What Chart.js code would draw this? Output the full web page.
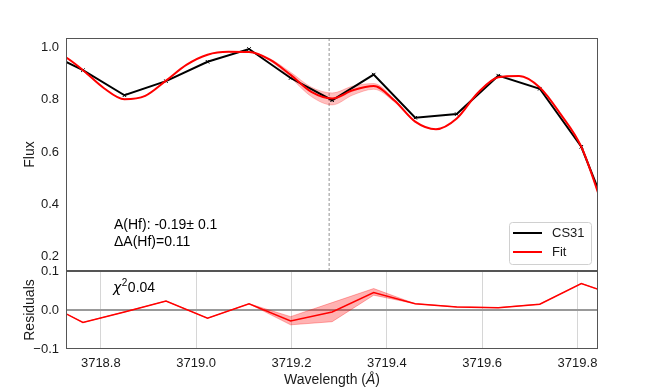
<!DOCTYPE html>
<html><head><meta charset="utf-8">
<script src="https://cdn.jsdelivr.net/npm/chart.js@4"></script>
<style>
html,body{margin:0;padding:0;background:#fff;}
#wrap{position:relative;width:664px;height:388px;background:#fff;}
canvas{position:absolute;left:0;top:0;}
</style></head><body>
<div id="wrap"><canvas id="bot" width="664" height="388"></canvas><canvas id="top" width="664" height="388"></canvas></div>
<script>
// ---- data ----
const dataWave = [3718.6754, 3718.7625, 3718.8496, 3718.9368, 3719.0239, 3719.1110, 3719.1982, 3719.2853, 3719.3724, 3719.4595, 3719.5467, 3719.6338, 3719.7209, 3719.8080, 3719.8951];
const fluxObs  = [0.990, 0.913, 0.817, 0.871, 0.945, 0.994, 0.883, 0.798, 0.896, 0.731, 0.745, 0.892, 0.842, 0.620, 0.220];

const fitWave  = [3718.6754, 3718.7189, 3718.7625, 3718.8061, 3718.8496, 3718.8932, 3718.9368, 3718.9803, 3719.0239, 3719.0675, 3719.1110, 3719.1546, 3719.1982, 3719.2417, 3719.2853, 3719.3288, 3719.3724, 3719.4160, 3719.4595, 3719.5031, 3719.5467, 3719.5902, 3719.6338, 3719.6774, 3719.7209, 3719.7645, 3719.8080, 3719.8516];
const fitFlux  = [0.985, 0.970, 0.913, 0.845, 0.802, 0.815, 0.873, 0.934, 0.972, 0.983, 0.982, 0.953, 0.895, 0.830, 0.805, 0.836, 0.852, 0.797, 0.716, 0.687, 0.728, 0.825, 0.886, 0.891, 0.847, 0.745, 0.620, 0.400];
const fitUpper = [0.985, 0.970, 0.913, 0.845, 0.802, 0.815, 0.873, 0.934, 0.972, 0.983, 0.983, 0.957, 0.905, 0.848, 0.826, 0.852, 0.862, 0.802, 0.718, 0.687, 0.728, 0.825, 0.886, 0.891, 0.847, 0.745, 0.620, 0.400];
const fitLower = [0.985, 0.970, 0.913, 0.845, 0.802, 0.815, 0.873, 0.934, 0.972, 0.983, 0.981, 0.949, 0.884, 0.812, 0.780, 0.818, 0.840, 0.791, 0.714, 0.687, 0.728, 0.825, 0.886, 0.891, 0.847, 0.745, 0.620, 0.400];

const residuals  = [0.023, -0.032, -0.005, 0.023, -0.021, 0.016, -0.028, -0.005, 0.045, 0.016, 0.008, 0.006, 0.015, 0.068, 0.031];
const residUpper = [0.023, -0.032, -0.005, 0.023, -0.021, 0.016, -0.017, 0.019, 0.055, 0.016, 0.008, 0.006, 0.015, 0.068, 0.031];
const residLower = [0.023, -0.032, -0.005, 0.023, -0.021, 0.016, -0.038, -0.030, 0.038, 0.016, 0.008, 0.006, 0.015, 0.068, 0.031];

const xTicks = [3718.8, 3719.0, 3719.2, 3719.4, 3719.6, 3719.8];
const fluxTicks = [0.2, 0.4, 0.6, 0.8, 1.0];
const residTicks = [-0.1, 0.0, 0.1];
const hfLine = 3719.279;
const xRange = [3718.727, 3719.843];
const fluxRange = [0.145, 1.036];
const residRange = [-0.1, 0.1];
const seriesLabels = ['CS31', 'Fit'];
const infoLines = ['A(Hf): -0.19\u00b1 0.1', '\u0394A(Hf)=0.11'];
const chiValue = '0.04';
const xTitleParts = ['Wavelength (', '\u00c5', ')'];

// ---- rendering ----
const FONT = "'Liberation Sans', Arial, Helvetica, sans-serif";
Chart.defaults.font.family = FONT;
Chart.defaults.color = '#1a1a1a';
const pts = (xs, ys) => xs.map((x, i) => ({x: x, y: ys[i]}));
const fmtTick = v => (v < 0 ? '\u2212' + Math.abs(v).toFixed(1) : v.toFixed(1));

const frame = {
  id: 'frame',
  afterDatasetsDraw(c) {
    const a = c.chartArea, ctx = c.ctx;
    ctx.save();
    ctx.strokeStyle = '#555';
    ctx.lineWidth = 1;
    ctx.strokeRect(Math.round(a.left) + 0.5, Math.round(a.top) + 0.5, Math.round(a.right - a.left) - 1, Math.round(a.bottom - a.top) - 1);
    ctx.restore();
  }
};

const legendBox = {
  id: 'legendBox',
  afterDraw(c) {
    const a = c.chartArea, ctx = c.ctx;
    const w = 82, h = 42;
    const x0 = a.right - 7 - w, y0 = a.bottom - 7 - h;
    ctx.save();
    ctx.beginPath();
    if (ctx.roundRect) ctx.roundRect(x0 + 0.5, y0 + 0.5, w, h, 3); else ctx.rect(x0 + 0.5, y0 + 0.5, w, h);
    ctx.fillStyle = 'rgba(255,255,255,0.85)';
    ctx.fill();
    ctx.strokeStyle = '#d0d0d0';
    ctx.lineWidth = 1;
    ctx.stroke();
    const cols = ['#000000', '#ff0000'];
    ctx.font = '13px ' + FONT;
    ctx.textBaseline = 'middle';
    ctx.textAlign = 'left';
    seriesLabels.forEach((lab, i) => {
      const y = y0 + 11 + i * 19;
      ctx.strokeStyle = cols[i];
      ctx.lineWidth = 2;
      ctx.beginPath(); ctx.moveTo(x0 + 4, y); ctx.lineTo(x0 + 33, y); ctx.stroke();
      ctx.fillStyle = '#1a1a1a';
      ctx.fillText(lab, x0 + 43, y);
    });
    ctx.restore();
  }
};

const infoText = {
  id: 'infoText',
  afterDraw(c) {
    const a = c.chartArea, ctx = c.ctx;
    ctx.save();
    ctx.font = '14px ' + FONT;
    ctx.fillStyle = '#000';
    ctx.textBaseline = 'middle';
    ctx.textAlign = 'left';
    ctx.fillText(infoLines[0], a.left + 48, a.bottom - 46);
    ctx.fillText(infoLines[1], a.left + 48, a.bottom - 29);
    ctx.restore();
  }
};

const chiText = {
  id: 'chiText',
  afterDraw(c) {
    const a = c.chartArea, ctx = c.ctx;
    ctx.save();
    ctx.fillStyle = '#000';
    ctx.textBaseline = 'middle';
    ctx.textAlign = 'left';
    let x = a.left + 47, y = a.top + 17;
    ctx.font = 'italic 14px "DejaVu Sans", sans-serif';
    ctx.fillText('\u03c7', x, y);
    x += ctx.measureText('\u03c7').width + 0.5;
    ctx.font = '10px ' + FONT;
    ctx.fillText('2', x, y - 5);
    x += ctx.measureText('2').width + 0.5;
    ctx.font = '14px ' + FONT;
    ctx.fillText(chiValue, x, y);
    ctx.restore();
  }
};

const xTitle = {
  id: 'xTitle',
  afterDraw(c) {
    const a = c.chartArea, ctx = c.ctx;
    ctx.save();
    ctx.fillStyle = '#1a1a1a';
    ctx.textBaseline = 'middle';
    ctx.textAlign = 'left';
    const fonts = ['14px ' + FONT, 'italic 14px ' + FONT, '14px ' + FONT];
    const widths = xTitleParts.map((t, i) => { ctx.font = fonts[i]; return ctx.measureText(t).width; });
    const total = widths.reduce((p, q) => p + q, 0);
    let x = (a.left + a.right) / 2 - total / 2;
    const y = c.height - 8;
    xTitleParts.forEach((t, i) => { ctx.font = fonts[i]; ctx.fillText(t, x, y); x += widths[i]; });
    ctx.restore();
  }
};

new Chart(document.getElementById('top'), {
  type: 'line',
  data: {datasets: [
    {label: seriesLabels[1], data: pts(fitWave, fitFlux), borderColor: '#ff0000', borderWidth: 2, pointRadius: 0, cubicInterpolationMode: 'monotone', fill: false},
    {label: seriesLabels[0], data: pts(dataWave, fluxObs), borderColor: '#000', borderWidth: 2, pointStyle: 'crossRot', pointRadius: 2.5, pointBorderWidth: 1, pointBorderColor: '#000', pointBackgroundColor: '#000', tension: 0, fill: false},
    {label: 'upper', data: pts(fitWave, fitUpper), borderColor: 'rgba(255,0,0,0.22)', borderWidth: 1, pointRadius: 0, cubicInterpolationMode: 'monotone', fill: '+1', backgroundColor: 'rgba(255,0,0,0.25)'},
    {label: 'lower', data: pts(fitWave, fitLower), borderColor: 'rgba(255,0,0,0.22)', borderWidth: 1, pointRadius: 0, cubicInterpolationMode: 'monotone', fill: false},
    {label: 'line', data: [{x: hfLine, y: fluxRange[0]}, {x: hfLine, y: fluxRange[1]}], borderColor: '#777', borderWidth: 0.8, borderDash: [3, 2], pointRadius: 0, fill: false}
  ]},
  options: {
    responsive: false, animation: false, devicePixelRatio: 1,
    layout: {padding: {left: 0, top: 38, right: 66, bottom: 117}},
    plugins: {legend: {display: false}, tooltip: {enabled: false}},
    scales: {
      x: {type: 'linear', min: xRange[0], max: xRange[1], display: false},
      y: {
        type: 'linear', min: fluxRange[0], max: fluxRange[1],
        afterBuildTicks: s => { s.ticks = fluxTicks.map(v => ({value: v})); },
        afterFit: s => { s.width = 66; },
        grid: {display: false, drawTicks: false},
        border: {display: false},
        ticks: {padding: 7, font: {size: 13}, callback: v => fmtTick(v), color: '#1a1a1a'},
        title: {display: true, text: 'Flux', font: {size: 14}, padding: {top: 22, bottom: 0}, color: '#1a1a1a'}
      }
    }
  },
  plugins: [frame, legendBox, infoText]
});

new Chart(document.getElementById('bot'), {
  type: 'line',
  data: {datasets: [
    {label: 'residuals', data: pts(dataWave, residuals), borderColor: '#ff0000', borderWidth: 1.5, pointRadius: 0, tension: 0, fill: false},
    {label: 'rUpper', data: pts(dataWave, residUpper), borderColor: 'rgba(255,0,0,0.3)', borderWidth: 1, pointRadius: 0, tension: 0, fill: '+1', backgroundColor: 'rgba(255,0,0,0.3)'},
    {label: 'rLower', data: pts(dataWave, residLower), borderColor: 'rgba(255,0,0,0.3)', borderWidth: 1, pointRadius: 0, tension: 0, fill: false}
  ]},
  options: {
    responsive: false, animation: false, devicePixelRatio: 1,
    layout: {padding: {left: 0, top: 271, right: 66, bottom: 0}},
    plugins: {legend: {display: false}, tooltip: {enabled: false}},
    scales: {
      x: {
        type: 'linear', min: xRange[0], max: xRange[1],
        afterBuildTicks: s => { s.ticks = xTicks.map(v => ({value: v})); },
        afterFit: s => { s.height = 39; },
        grid: {color: '#d6d6d6', lineWidth: 1, drawTicks: false},
        border: {display: false},
        ticks: {padding: 7, font: {size: 13}, maxRotation: 0, autoSkip: false, callback: v => v.toFixed(1), color: '#1a1a1a'},
        title: {display: false}
      },
      y: {
        type: 'linear', min: residRange[0], max: residRange[1],
        afterBuildTicks: s => { s.ticks = residTicks.map(v => ({value: v})); },
        afterFit: s => { s.width = 66; },
        grid: {color: c => (Math.abs(c.tick.value) < 1e-9 ? '#999' : 'rgba(0,0,0,0)'), lineWidth: c => (Math.abs(c.tick.value) < 1e-9 ? 2 : 0), drawTicks: false},
        border: {display: false},
        ticks: {padding: 7, font: {size: 13}, callback: v => fmtTick(v), color: '#1a1a1a'},
        title: {display: true, text: 'Residuals', font: {size: 14}, padding: {top: 22, bottom: 0}, color: '#1a1a1a'}
      }
    }
  },
  plugins: [frame, chiText, xTitle]
});
</script>
</body></html>
